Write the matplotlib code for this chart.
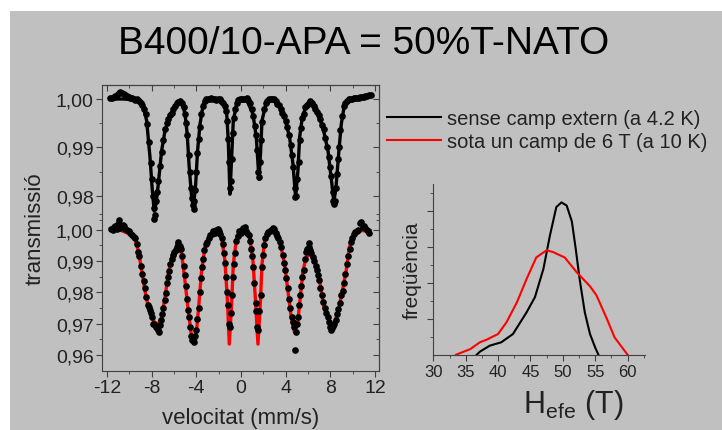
import matplotlib
matplotlib.use("Agg")
import matplotlib.pyplot as plt
from matplotlib.patches import Rectangle
from matplotlib.ticker import FixedLocator, FuncFormatter

plt.rcParams['font.family'] = ['Liberation Sans', 'DejaVu Sans']
plt.rcParams['mathtext.fontset'] = 'custom'
plt.rcParams['mathtext.rm'] = 'Liberation Sans'
plt.rcParams['axes.unicode_minus'] = False

BG = '#c0c0c0'
TXT = '#222222'
SPINE = '#404040'

# ---------- data ----------
# spectrum without external field (4.2 K): fit line
top_fit_v = [-11.7, -10.5, -9.5, -9.0, -8.75, -8.45, -8.15, -7.94, -7.77, -7.6, -7.41, -7.11,
             -6.81, -6.36, -5.76, -5.46, -5.2, -5.02, -4.82, -4.64, -4.42, -4.27, -4.06, -3.89,
             -3.67, -3.38, -3.08, -2.3, -1.58, -1.28, -1.14, -0.99, -0.84, -0.69, -0.39, -0.27,
             0.47, 1.07, 1.37, 1.61, 1.76, 1.88, 2.26, 2.86, 3.46, 3.91, 4.35, 4.65, 4.89, 5.10,
             5.25, 5.49, 5.84, 6.15, 6.74, 7.34, 7.79, 8.14, 8.32, 8.53, 8.77, 8.98, 9.28, 9.87,
             11.66]
top_fit_t = [1.0000, 1.0000, 0.9998, 0.9993, 0.9985, 0.9955, 0.9879, 0.9810, 0.9768, 0.9785,
             0.9824, 0.9893, 0.9934, 0.9965, 0.9990, 0.9993, 0.9985, 0.9970, 0.9928, 0.9859,
             0.9797, 0.9776, 0.9824, 0.9893, 0.9948, 0.9990, 1.0000, 1.0000, 0.9993, 0.9969,
             0.9914, 0.9803, 0.9879, 0.9955, 0.9990, 1.0000, 1.0000, 0.9969, 0.9921, 0.9834,
             0.9893, 0.9955, 0.9993, 1.0000, 0.9986, 0.9962, 0.9921, 0.9866, 0.9797, 0.9852,
             0.9921, 0.9962, 0.9986, 0.9993, 0.9976, 0.9941, 0.9893, 0.9824, 0.9786, 0.9824,
             0.9893, 0.9948, 0.9990, 1.0000, 1.0007]

# spectrum without external field: measured points
top_pts_v = [-11.7, -11.4, -11.1, -10.8, -10.5, -10.2, -9.9, -9.6, -9.3, -9.0, -8.7, -8.4,
             -8.1, -7.9, -7.75, -7.6, -7.4, -7.1, -6.8, -6.5, -6.2, -5.9, -5.6, -5.3, -5.0,
             -4.8, -4.6, -4.4, -4.25, -4.1, -3.9, -3.7, -3.4, -3.1, -2.8, -2.5, -2.2, -1.9,
             -1.6, -1.35, -1.15, -1.0, -0.85, -0.65, -0.4, -0.1, 0.2, 0.5, 0.8, 1.1, 1.35,
             1.55, 1.7, 1.9, 2.2, 2.5, 2.8, 3.1, 3.4, 3.7, 4.0, 4.3, 4.55, 4.8, 4.95, 5.15,
             5.35, 5.6, 5.9, 6.2, 6.5, 6.8, 7.1, 7.4, 7.7, 7.95, 8.2, 8.35, 8.5, 8.7, 8.9,
             9.2, 9.5, 9.8, 10.1, 10.4, 10.7, 11.0, 11.3, 11.6,
             -11.55, -11.25, -10.95, -10.65, -10.35, -10.05, -9.75, -9.45, -9.15, -8.85,
             -8.55, -8.25, -8.0, -7.82, -7.68, -7.5, -7.25, -6.95, -6.65, -6.35, -6.05,
             -5.75, -5.45, -5.15, -4.9, -4.7, -4.5, -4.33, -4.18, -4.0, -3.8, -3.55, -3.25,
             -2.95, -2.65, -2.35, -2.05, -1.75, -1.45, -1.25, -1.07, -0.93, -0.75, -0.55,
             -0.25, 0.05, 0.35, 0.65, 0.95, 1.25, 1.45, 1.62, 1.8, 2.05, 2.35, 2.65, 2.95,
             3.25, 3.55, 3.85, 4.15, 4.45, 4.65, 4.88, 5.05, 5.25, 5.48, 5.75, 6.05, 6.35,
             6.65, 6.95, 7.25, 7.55, 7.85, 8.05, 8.28, 8.42, 8.6, 8.8, 9.05, 9.35, 9.65,
             9.95, 10.25, 10.55, 10.85, 11.15, 11.45]
top_pts_t = [1.0002, 1.0004, 1.0008, 1.0015, 1.0010, 1.0006, 1.0003, 1.0001, 0.9999, 0.9992,
             0.9980, 0.9948, 0.9868, 0.9800, 0.9752, 0.9790, 0.9830, 0.9890, 0.9937, 0.9958,
             0.9972, 0.9986, 0.9994, 0.9991, 0.9968, 0.9925, 0.9850, 0.9795, 0.9772, 0.9812,
             0.9888, 0.9942, 0.9986, 1.0001, 0.9999, 1.0001, 0.9998, 0.9999, 0.9992, 0.9975,
             0.9918, 0.9815, 0.9875, 0.9960, 0.9991, 1.0001, 0.9999, 1.0002, 0.9992, 0.9965,
             0.9925, 0.9850, 0.9870, 0.9952, 0.9991, 0.9999, 1.0001, 0.9996, 0.9987, 0.9972,
             0.9955, 0.9925, 0.9885, 0.9815, 0.9800, 0.9870, 0.9940, 0.9970, 0.9988, 0.9995,
             0.9985, 0.9973, 0.9958, 0.9937, 0.9900, 0.9860, 0.9808, 0.9782, 0.9815, 0.9875,
             0.9935, 0.9985, 0.9995, 1.0000, 1.0002, 1.0003, 1.0004, 1.0005, 1.0007, 1.0008,
             1.0003, 1.0006, 1.0012, 1.0013, 1.0008, 1.0004, 1.0002, 0.9998, 0.9996, 0.9988,
             0.9968, 0.9912, 0.9835, 0.9775, 0.9760, 0.9808, 0.9862, 0.9915, 0.9950, 0.9966,
             0.9980, 0.9991, 0.9995, 0.9983, 0.9950, 0.9885, 0.9815, 0.9780, 0.9790, 0.9850,
             0.9918, 0.9968, 0.9996, 1.0000, 1.0002, 0.9999, 1.0001, 0.9996, 0.9985, 0.9955,
             0.9870, 0.9830, 0.9930, 0.9980, 0.9998, 1.0000, 1.0001, 0.9997, 0.9980, 0.9945,
             0.9895, 0.9838, 0.9915, 0.9980, 0.9996, 1.0000, 0.9999, 0.9990, 0.9980, 0.9964,
             0.9942, 0.9905, 0.9860, 0.9798, 0.9835, 0.9915, 0.9960, 0.9983, 0.9992, 0.9991,
             0.9979, 0.9966, 0.9946, 0.9920, 0.9880, 0.9840, 0.9790, 0.9790, 0.9845, 0.9900,
             0.9965, 0.9992, 0.9999, 1.0001, 1.0003, 1.0003, 1.0005, 1.0006, 1.0008]

# spectrum under 6 T (10 K): fit line
bot_fit_v = [-11.7, -10.84, -9.94, -9.49, -9.2, -8.89, -8.6, -8.3, -7.85, -7.5, -7.1, -6.81,
             -6.51, -6.2, -5.91, -5.61, -5.31, -5.02, -4.72, -4.42, -4.27, -3.98, -3.77, -3.53,
             -3.23, -2.78, -2.19, -1.74, -1.44, -1.23, -1.05, -0.84, -0.69, -0.39, -0.27, 0.33,
             0.78, 1.07, 1.28, 1.52, 1.73, 1.88, 2.12, 2.56, 2.86, 3.46, 3.91, 4.2, 4.5, 4.8,
             5.1, 5.34, 5.55, 5.84, 6.15, 6.59, 7.04, 7.43, 7.98, 8.28, 8.64, 9.03, 9.42, 9.71,
             10.07, 10.67, 11.57]
bot_fit_t = [1.0002, 0.9999, 0.9986, 0.9970, 0.9933, 0.9869, 0.9805, 0.9752, 0.9710, 0.9694,
             0.9720, 0.9784, 0.9859, 0.9912, 0.9938, 0.9944, 0.9922, 0.9837, 0.9741, 0.9657,
             0.9646, 0.9678, 0.9763, 0.9869, 0.9944, 0.9981, 0.9997, 0.9976, 0.9901, 0.9784,
             0.9635, 0.9763, 0.9890, 0.9976, 0.9986, 0.9997, 0.9976, 0.9901, 0.9784, 0.9635,
             0.9763, 0.9890, 0.9965, 0.9992, 0.9992, 0.9965, 0.9890, 0.9805, 0.9720, 0.9672,
             0.9710, 0.9795, 0.9869, 0.9912, 0.9922, 0.9901, 0.9837, 0.9752, 0.9699, 0.9694,
             0.9731, 0.9795, 0.9869, 0.9944, 0.9986, 0.9997, 0.9997]

# spectrum under 6 T: measured points
bot_pts_v = [-11.6, -11.4, -11.1, -10.9, -10.7, -10.5, -10.2, -9.9, -9.6, -9.35, -9.1, -8.85,
             -8.6, -8.35, -8.15, -7.95, -7.75, -7.55, -7.35, -7.15, -6.95, -6.75, -6.55, -6.35,
             -6.1, -5.85, -5.65, -5.6, -5.4, -5.15, -4.95, -4.75, -4.55, -4.35, -4.2, -4.0,
             -3.8, -3.6, -3.4, -3.15, -2.9, -2.6, -2.35, -2.1, -1.85, -1.6, -1.4, -1.25, -1.1,
             -0.9, -0.75, -0.55, -0.3, 0.0, 0.2, 0.45, 0.7, 0.9, 1.1, 1.3, 1.45, 1.65, 1.85,
             2.05, 2.3, 2.6, 2.85, 3.1, 3.35, 3.6, 3.85, 4.05, 4.3, 4.55, 4.75, 4.85, 5.0,
             5.2, 5.4, 5.6, 5.85, 6.05, 6.1, 6.3, 6.55, 6.8, 7.0, 7.25, 7.5, 7.75, 7.95, 8.15,
             8.35, 8.6, 8.85, 9.1, 9.35, 9.6, 9.85, 10.1, 10.4, 10.65, 10.9, 11.15, 11.4,
             -11.5, -11.25, -11.0, -10.8, -10.6, -10.35, -10.05, -9.75, -9.5, -9.22, -8.97,
             -8.72, -8.47, -8.25, -8.05, -7.85, -7.65, -7.45, -7.25, -7.05, -6.85, -6.65,
             -6.45, -6.22, -5.97, -5.75, -5.5, -5.28, -5.05, -4.85, -4.65, -4.45, -4.28, -4.1,
             -3.9, -3.7, -3.5, -3.28, -3.02, -2.75, -2.48, -2.22, -1.97, -1.72, -1.5, -1.32,
             -1.17, -1.0, -0.82, -0.65, -0.42, -0.15, 0.1, 0.33, 0.58, 0.8, 1.0, 1.2, 1.38,
             1.55, 1.75, 1.95, 2.18, 2.45, 2.72, 2.98, 3.22, 3.48, 3.72, 3.95, 4.18, 4.42,
             4.65, 4.92, 5.1, 5.3, 5.5, 5.72, 5.95, 6.2, 6.42, 6.68, 6.9, 7.12, 7.38, 7.62,
             7.85, 8.05, 8.25, 8.48, 8.72, 8.98, 9.22, 9.48, 9.72, 9.98, 10.25, 10.52, 10.78,
             11.02, 11.28, 11.5]
bot_pts_t = [1.0003, 1.0010, 1.0002, 1.0030, 1.0008, 1.0012, 1.0000, 0.9988, 0.9978, 0.9955,
             0.9915, 0.9858, 0.9815, 0.9760, 0.9745, 0.9720, 0.9700, 0.9685, 0.9675, 0.9712,
             0.9750, 0.9798, 0.9850, 0.9892, 0.9920, 0.9935, 0.9955, 0.9960, 0.9940, 0.9885,
             0.9820, 0.9745, 0.9690, 0.9648, 0.9640, 0.9680, 0.9750, 0.9845, 0.9905, 0.9955,
             0.9975, 0.9985, 0.9990, 1.0002, 0.9985, 0.9955, 0.9895, 0.9800, 0.9700, 0.9735,
             0.9850, 0.9925, 0.9980, 0.9990, 1.0005, 0.9995, 0.9982, 0.9940, 0.9880, 0.9765,
             0.9690, 0.9740, 0.9880, 0.9950, 0.9985, 0.9995, 1.0005, 0.9990, 0.9972, 0.9945,
             0.9895, 0.9845, 0.9780, 0.9720, 0.9690, 0.9615, 0.9700, 0.9760, 0.9820, 0.9870,
             0.9930, 0.9945, 0.9958, 0.9925, 0.9900, 0.9870, 0.9840, 0.9790, 0.9750, 0.9720,
             0.9690, 0.9685, 0.9700, 0.9730, 0.9765, 0.9805, 0.9860, 0.9915, 0.9960, 0.9985,
             0.9995, 1.0020, 1.0010, 1.0005, 0.9995,
             1.0000, 1.0012, 1.0018, 1.0005, 1.0015, 1.0003, 0.9995, 0.9982, 0.9972, 0.9930,
             0.9885, 0.9835, 0.9785, 0.9752, 0.9735, 0.9700, 0.9690, 0.9680, 0.9695, 0.9730,
             0.9775, 0.9830, 0.9868, 0.9905, 0.9930, 0.9945, 0.9948, 0.9915, 0.9855, 0.9780,
             0.9720, 0.9660, 0.9652, 0.9660, 0.9715, 0.9800, 0.9880, 0.9935, 0.9962, 0.9982,
             0.9995, 0.9998, 0.9995, 0.9972, 0.9925, 0.9850, 0.9760, 0.9690, 0.9790, 0.9890,
             0.9965, 0.9995, 0.9998, 1.0008, 0.9990, 0.9965, 0.9915, 0.9830, 0.9740, 0.9680,
             0.9790, 0.9920, 0.9972, 0.9992, 0.9998, 1.0002, 0.9980, 0.9960, 0.9920, 0.9870,
             0.9815, 0.9750, 0.9705, 0.9675, 0.9720, 0.9790, 0.9850, 0.9905, 0.9938, 0.9935,
             0.9912, 0.9885, 0.9855, 0.9815, 0.9770, 0.9735, 0.9705, 0.9680, 0.9692, 0.9712,
             0.9748, 0.9790, 0.9830, 0.9890, 0.9940, 0.9975, 0.9992, 1.0000, 1.0025, 1.0012,
             1.0000, 0.9990]

# hyperfine field distributions
h_black = [36.7, 37.2, 38.7, 40.5, 42.3, 44.4, 45.7, 47.0, 48.0, 49.0, 49.8, 50.6, 51.4,
           52.0, 52.6, 53.4, 54.2, 55.0, 55.5]
f_black = [0.0, 0.17, 0.5, 0.69, 1.15, 2.35, 3.2, 4.76, 6.6, 8.2, 8.46, 8.28, 7.4,
           5.87, 4.2, 2.35, 1.15, 0.4, 0.0]
h_red = [33.5, 35.7, 37.2, 38.2, 40.0, 41.3, 42.9, 44.4, 45.9, 47.5, 48.5, 50.3, 52.1,
         54.2, 55.2, 56.8, 58.0, 60.0]
f_red = [0.0, 0.31, 0.69, 0.83, 1.15, 1.8, 2.9, 4.2, 5.4, 5.8, 5.7, 5.4, 4.6,
         3.8, 3.3, 2.0, 0.96, 0.0]

legend_labels = ['sense camp extern (a 4.2 K)', 'sota un camp de 6 T (a 10 K)']
title = 'B400/10-APA = 50%T-NATO'

# ---------- figure ----------
fig = plt.figure(figsize=(7.22, 4.31), dpi=100, facecolor='white')
fig.add_artist(Rectangle((10 / 722, 0), 1, 1 - 12 / 431, transform=fig.transFigure,
                         facecolor=BG, edgecolor='none', zorder=-10))

comma = FuncFormatter(lambda v, p: f"{v:.2f}".replace('.', ','))
rect = [102 / 722, 1 - 372 / 431, 277 / 722, 286 / 431]

# lower spectrum axes (carries the frame and the x axis)
ax = fig.add_axes(rect)
ax.set_facecolor('none')
ax.set_xlim(-12.45, 12.36)
ax.set_ylim(0.95490, 1.04619)
ax.plot(bot_fit_v, bot_fit_t, color='#ff0000', lw=2.4, zorder=2,
        label=legend_labels[1])
ax.plot(bot_pts_v, bot_pts_t, 'o', color='black', ms=4.8, mew=0, zorder=3)
ax.set_xticks([-12, -8, -4, 0, 4, 8, 12])
ax.xaxis.set_minor_locator(FixedLocator([-10, -6, -2, 2, 6, 10]))
ax.set_yticks([0.96, 0.97, 0.98, 0.99, 1.00])
ax.yaxis.set_minor_locator(FixedLocator([0.965, 0.975, 0.985, 0.995, 1.005]))
ax.yaxis.set_major_formatter(comma)
ax.tick_params(which='both', direction='out', colors=SPINE, labelcolor=TXT,
               labelsize=14, pad=2)
ax.tick_params(which='major', length=4)
ax.tick_params(which='minor', length=2.5)
for s in ax.spines.values():
    s.set_color(SPINE)
ax.set_xlabel('velocitat (mm/s)', fontsize=16, color=TXT, labelpad=8)
ax.set_ylabel('transmissió', fontsize=16, color=TXT, labelpad=7)

# inward ticks on the top and right sides
top = ax.secondary_xaxis('top')
top.set_xticks([-12, -8, -4, 0, 4, 8, 12])
top.xaxis.set_minor_locator(FixedLocator([-10, -6, -2, 2, 6, 10]))
top.tick_params(which='both', direction='in', labeltop=False, colors=SPINE)
top.tick_params(which='major', length=4)
top.tick_params(which='minor', length=2.5)
right = ax.secondary_yaxis('right')
right.set_yticks([0.96, 0.97, 0.98, 0.99, 1.00])
right.yaxis.set_minor_locator(FixedLocator([0.965, 0.975, 0.985, 0.995, 1.005]))
right.tick_params(which='both', direction='in', labelright=False, colors=SPINE)
right.tick_params(which='major', length=4)
right.tick_params(which='minor', length=2.5)
for s in list(top.spines.values()) + list(right.spines.values()):
    s.set_color(SPINE)

# upper spectrum axes, same box, own y scale
ax2 = fig.add_axes(rect)
ax2.set_facecolor('none')
ax2.set_xlim(-12.45, 12.36)
ax2.set_ylim(0.94372, 1.00290)
ax2.plot(top_fit_v, top_fit_t, color='black', lw=2.4, label=legend_labels[0])
ax2.plot(top_pts_v, top_pts_t, 'o', color='black', ms=4.8, mew=0)
for s in ax2.spines.values():
    s.set_visible(False)
ax2.xaxis.set_visible(False)
ax2.set_yticks([0.98, 0.99, 1.00])
ax2.yaxis.set_minor_locator(FixedLocator([0.975, 0.985, 0.995]))
ax2.yaxis.set_major_formatter(comma)
ax2.tick_params(which='both', direction='out', colors=SPINE, labelcolor=TXT,
                labelsize=14, pad=2)
ax2.tick_params(which='major', length=4)
ax2.tick_params(which='minor', length=2.5)
right2 = ax2.secondary_yaxis('right')
right2.set_yticks([0.98, 0.99, 1.00])
right2.yaxis.set_minor_locator(FixedLocator([0.975, 0.985, 0.995]))
right2.tick_params(which='both', direction='in', labelright=False, colors=SPINE)
right2.tick_params(which='major', length=4)
right2.tick_params(which='minor', length=2.5)
right2.spines['right'].set_visible(False)

# legend
h1 = ax2.get_lines()[0]
h2 = ax.get_lines()[0]
leg = fig.legend([h1, h2], legend_labels, loc='upper left',
                 bbox_to_anchor=(387 / 722, 1 - 110 / 431), frameon=False,
                 fontsize=14.5, handlelength=2.7, handletextpad=0.3,
                 labelspacing=0.2, borderpad=0, borderaxespad=0, labelcolor=TXT)
for ln in leg.get_lines():
    ln.set_linewidth(1.5)

# field distribution inset
ax3 = fig.add_axes([432.7 / 722, 1 - 355.7 / 431, 212.3 / 722, 170.7 / 431])
ax3.set_facecolor('none')
ax3.plot(h_black, f_black, color='black', lw=1.5)
ax3.plot(h_red, f_red, color='#ff0000', lw=1.5)
ax3.set_xlim(29.9, 62.7)
ax3.set_ylim(0, 9.48)
ax3.set_xticks([30, 35, 40, 45, 50, 55, 60])
ax3.xaxis.set_minor_locator(FixedLocator([32.5, 37.5, 42.5, 47.5, 52.5, 57.5, 62.5]))
ax3.set_yticks([2, 4, 6, 8])
ax3.yaxis.set_minor_locator(FixedLocator([1, 3, 5, 7, 9]))
ax3.set_yticklabels([])
ax3.spines['top'].set_visible(False)
ax3.spines['right'].set_visible(False)
for s in ax3.spines.values():
    s.set_color(SPINE)
ax3.tick_params(which='both', direction='out', colors=SPINE, labelcolor=TXT,
                labelsize=12, pad=3)
ax3.tick_params(which='major', length=4)
ax3.tick_params(which='minor', length=2)
ax3.set_xlabel(r'H$_{\mathregular{efe}}$ (T)', fontsize=22, color=TXT)
ax3.xaxis.set_label_coords(0.66, -0.19)
ax3.set_ylabel('freqüència', fontsize=15, color=TXT, labelpad=1)

fig.text(363.5 / 722, 1 - 44 / 431, title, fontsize=28, color='black',
         ha='center', va='center')

fig.savefig('out.png', dpi=100, facecolor=fig.get_facecolor())
